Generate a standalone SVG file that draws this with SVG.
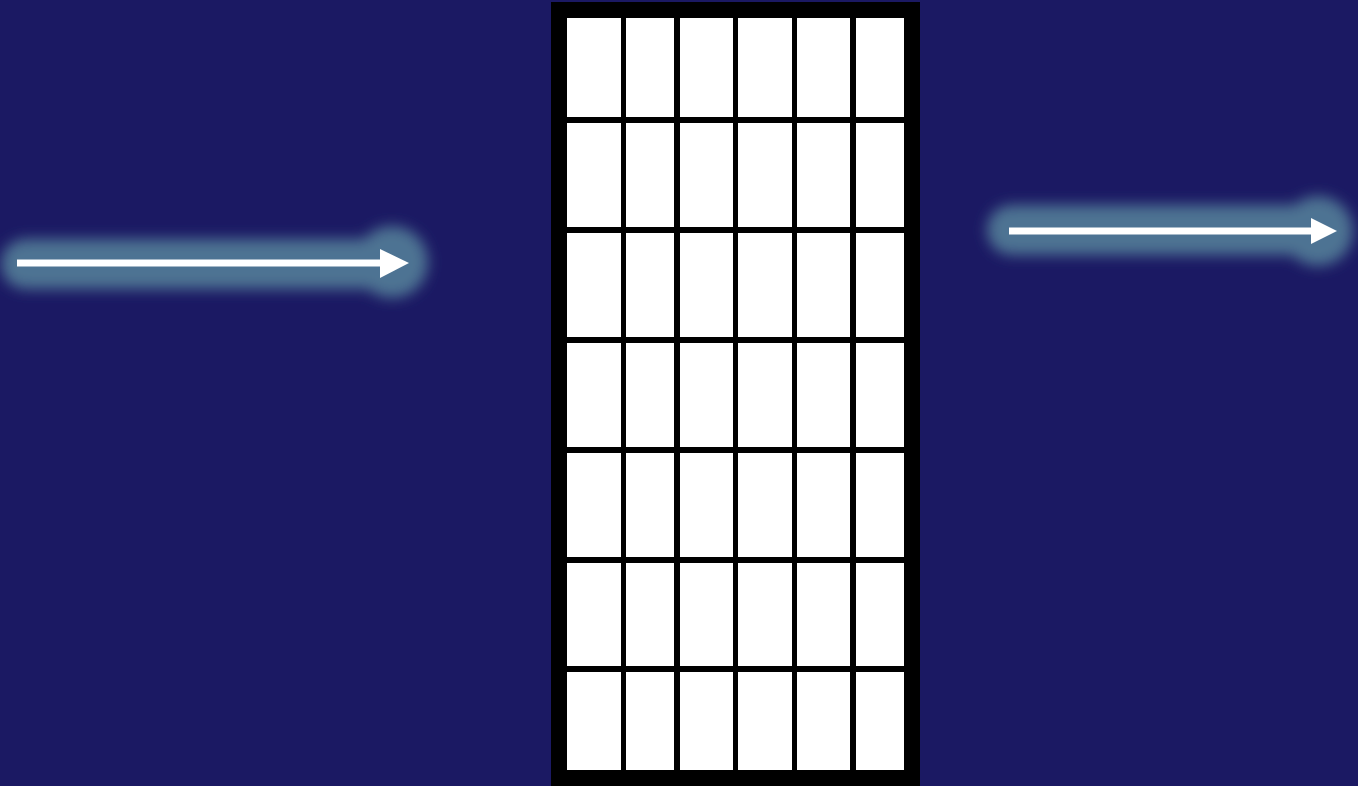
<svg xmlns="http://www.w3.org/2000/svg" width="1358" height="786" viewBox="0 0 1358 786">
<style>
.cell{fill:#ffffff;}
.glow{fill:none;stroke:#4d7393;stroke-width:50;stroke-linecap:round;}
.glowhead{fill:#4d7393;}
.shaft{stroke:#ffffff;stroke-width:7;fill:none;}
.head{fill:#ffffff;}
</style>
<defs>
<filter id="blur" x="-20%" y="-100%" width="140%" height="300%">
<feGaussianBlur stdDeviation="7"/>
</filter>
</defs>
<rect x="0" y="0" width="1358" height="786" fill="#1b1963"/>
<g id="grid">
<rect x="551" y="2" width="369" height="784" fill="#000000"/>
<g id="row1">
<rect class="cell" x="567" y="18" width="54" height="99"/>
<rect class="cell" x="626" y="18" width="48" height="99"/>
<rect class="cell" x="680" y="18" width="53" height="99"/>
<rect class="cell" x="738" y="18" width="54" height="99"/>
<rect class="cell" x="797" y="18" width="53" height="99"/>
<rect class="cell" x="856" y="18" width="48" height="99"/>
</g>
<g id="row2">
<rect class="cell" x="567" y="123" width="54" height="104"/>
<rect class="cell" x="626" y="123" width="48" height="104"/>
<rect class="cell" x="680" y="123" width="53" height="104"/>
<rect class="cell" x="738" y="123" width="54" height="104"/>
<rect class="cell" x="797" y="123" width="53" height="104"/>
<rect class="cell" x="856" y="123" width="48" height="104"/>
</g>
<g id="row3">
<rect class="cell" x="567" y="233" width="54" height="104"/>
<rect class="cell" x="626" y="233" width="48" height="104"/>
<rect class="cell" x="680" y="233" width="53" height="104"/>
<rect class="cell" x="738" y="233" width="54" height="104"/>
<rect class="cell" x="797" y="233" width="53" height="104"/>
<rect class="cell" x="856" y="233" width="48" height="104"/>
</g>
<g id="row4">
<rect class="cell" x="567" y="343" width="54" height="104"/>
<rect class="cell" x="626" y="343" width="48" height="104"/>
<rect class="cell" x="680" y="343" width="53" height="104"/>
<rect class="cell" x="738" y="343" width="54" height="104"/>
<rect class="cell" x="797" y="343" width="53" height="104"/>
<rect class="cell" x="856" y="343" width="48" height="104"/>
</g>
<g id="row5">
<rect class="cell" x="567" y="453" width="54" height="104"/>
<rect class="cell" x="626" y="453" width="48" height="104"/>
<rect class="cell" x="680" y="453" width="53" height="104"/>
<rect class="cell" x="738" y="453" width="54" height="104"/>
<rect class="cell" x="797" y="453" width="53" height="104"/>
<rect class="cell" x="856" y="453" width="48" height="104"/>
</g>
<g id="row6">
<rect class="cell" x="567" y="563" width="54" height="103"/>
<rect class="cell" x="626" y="563" width="48" height="103"/>
<rect class="cell" x="680" y="563" width="53" height="103"/>
<rect class="cell" x="738" y="563" width="54" height="103"/>
<rect class="cell" x="797" y="563" width="53" height="103"/>
<rect class="cell" x="856" y="563" width="48" height="103"/>
</g>
<g id="row7">
<rect class="cell" x="567" y="672" width="54" height="98"/>
<rect class="cell" x="626" y="672" width="48" height="98"/>
<rect class="cell" x="680" y="672" width="53" height="98"/>
<rect class="cell" x="738" y="672" width="54" height="98"/>
<rect class="cell" x="797" y="672" width="53" height="98"/>
<rect class="cell" x="856" y="672" width="48" height="98"/>
</g>
</g>
<g id="connectors">
<g id="arrow-in">
<g filter="url(#blur)">
<line class="glow" x1="26" y1="264" x2="390" y2="264"/>
<circle class="glowhead" cx="392" cy="262" r="36"/>
</g>
<line class="shaft" x1="17" y1="263" x2="382" y2="263"/>
<polygon class="head" points="380,249 409,263 380,278"/>
</g>
<g id="arrow-out">
<g filter="url(#blur)">
<line class="glow" x1="1012" y1="230" x2="1318" y2="230"/>
<circle class="glowhead" cx="1318" cy="231" r="35"/>
</g>
<line class="shaft" x1="1009" y1="231" x2="1313" y2="231"/>
<polygon class="head" points="1311,218 1337,231 1311,244"/>
</g>
</g>
</svg>
